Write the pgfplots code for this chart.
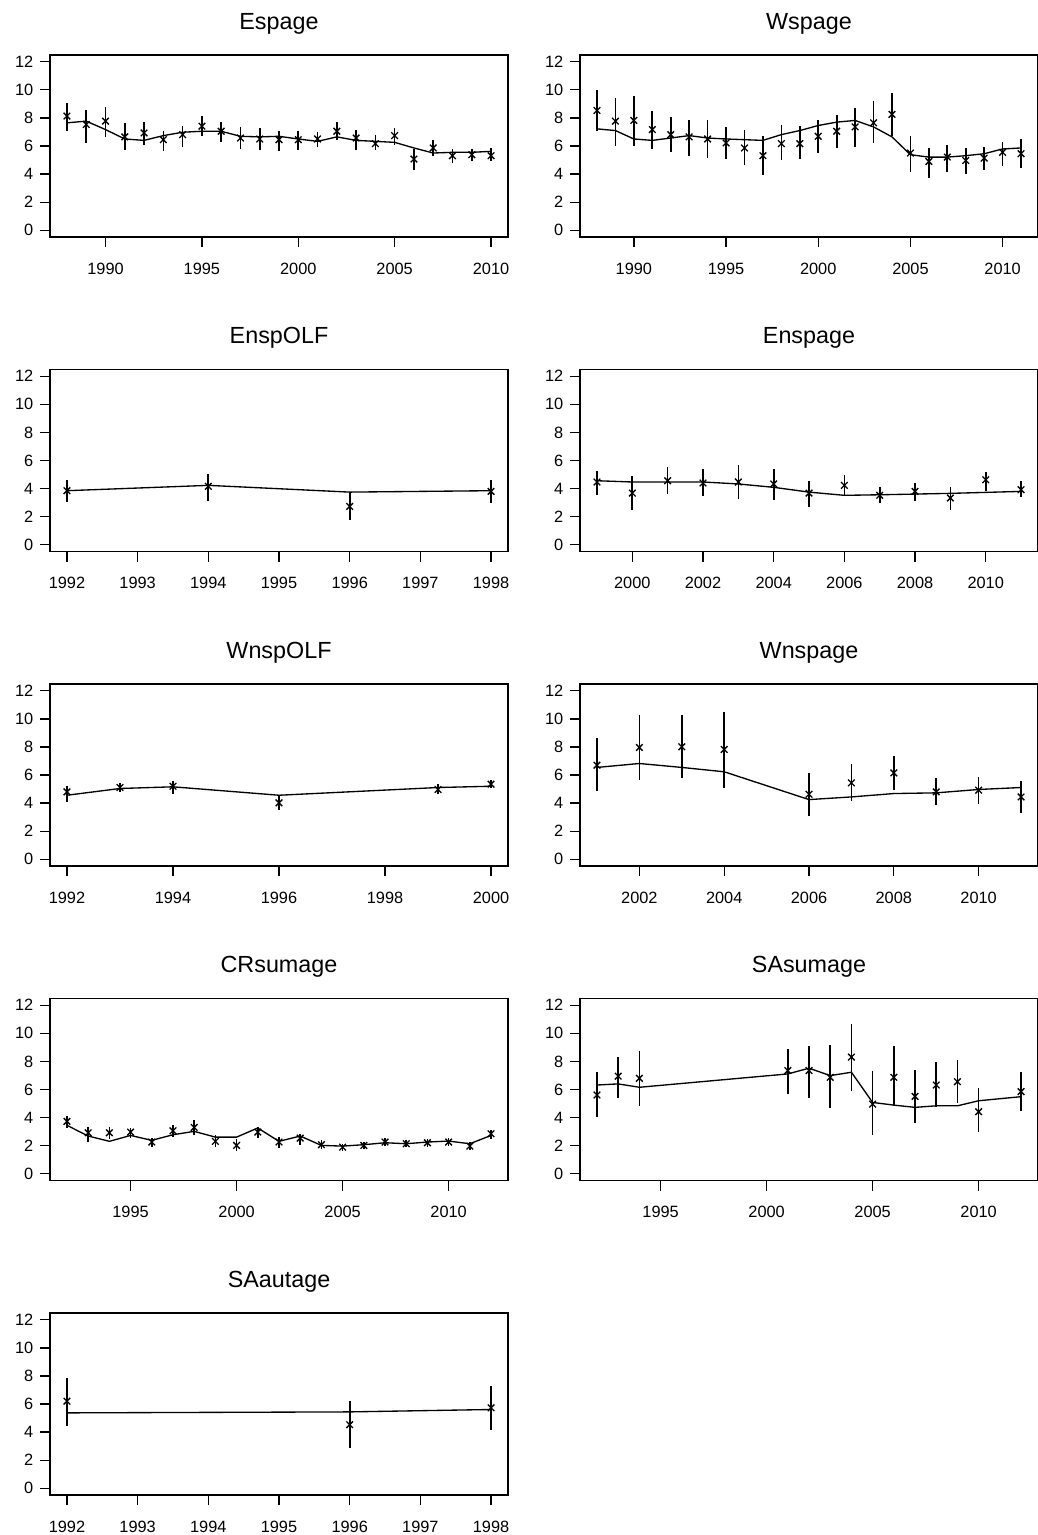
\documentclass[border=0pt]{standalone}
\usepackage{fontspec}
\setmainfont{Liberation Sans}
\usepackage{pgfplots}
\usepackage{pgfplotstable}
\pgfplotsset{compat=1.18}

\pgfplotstableread{
yr pt lo hi fit
1988 8.13 7.05 9.08 7.65
1989 7.53 6.22 8.56 7.77
1990 7.77 6.65 8.80 7.17
1991 6.65 5.74 7.65 6.50
1992 6.93 6.10 7.70 6.40
1993 6.45 5.62 7.05 6.74
1994 6.81 5.93 7.41 6.98
1995 7.41 6.74 8.13 7.05
1996 7.05 6.26 7.70 7.05
1997 6.57 5.79 7.36 6.69
1998 6.50 5.74 7.29 6.65
1999 6.45 5.62 7.05 6.69
2000 6.45 5.69 7.05 6.50
2001 6.50 5.93 6.98 6.33
2002 7.05 6.45 7.70 6.65
2003 6.57 5.69 7.17 6.40
2004 6.17 5.69 6.79 6.33
2005 6.74 6.10 7.29 6.26
2006 5.07 4.30 5.79 5.86
2007 5.86 5.26 6.40 5.50
2008 5.31 4.78 5.79 5.55
2009 5.38 4.90 5.79 5.55
2010 5.31 4.90 5.83 5.62
}\tabA

\pgfplotstableread{
yr pt lo hi fit
1988 8.53 7.05 9.99 7.22
1989 7.77 6.02 9.44 7.10
1990 7.82 6.02 9.56 6.50
1991 7.17 5.79 8.49 6.40
1992 6.81 5.55 8.08 6.57
1993 6.65 5.31 7.82 6.74
1994 6.50 5.14 7.82 6.57
1995 6.22 5.07 7.36 6.50
1996 5.86 4.66 7.17 6.45
1997 5.31 3.94 6.74 6.40
1998 6.17 4.97 7.46 6.81
1999 6.17 5.07 7.41 7.10
2000 6.69 5.50 7.84 7.46
2001 7.05 5.86 8.22 7.70
2002 7.36 5.93 8.73 7.82
2003 7.65 6.22 9.20 7.36
2004 8.25 6.74 9.75 6.65
2005 5.50 4.18 6.69 5.38
2006 4.90 3.71 5.86 5.21
2007 5.21 4.18 6.07 5.21
2008 4.97 4.02 5.83 5.31
2009 5.14 4.26 5.93 5.45
2010 5.55 4.59 6.26 5.79
2011 5.45 4.42 6.50 5.86
}\tabB

\pgfplotstableread{
yr pt lo hi fit
1992 3.85 3.04 4.63 3.85
1994 4.16 3.14 5.04 4.23
1996 2.73 1.78 3.75 3.75
1998 3.80 2.97 4.63 3.85
}\tabC

\pgfplotstableread{
yr pt lo hi fit
1999 4.47 3.52 5.28 4.56
2000 3.68 2.47 4.87 4.47
2001 4.56 3.61 5.51 4.47
2002 4.40 3.45 5.42 4.47
2003 4.47 3.28 5.70 4.33
2004 4.33 3.21 5.42 4.09
2005 3.68 2.66 4.52 3.75
2006 4.23 3.45 4.99 3.52
2007 3.52 2.97 4.09 3.56
2008 3.80 3.14 4.40 3.61
2009 3.33 2.50 4.09 3.66
2010 4.63 3.80 5.18 3.73
2011 3.92 3.37 4.56 3.80
}\tabD

\pgfplotstableread{
yr pt lo hi fit
1992 4.80 4.09 5.20 4.56
1993 5.11 4.80 5.44 5.04
1994 5.20 4.68 5.58 5.16
1996 4.02 3.49 4.56 4.56
1999 4.97 4.63 5.35 5.11
2000 5.35 5.04 5.68 5.20
}\tabE

\pgfplotstableread{
yr pt lo hi fit
2001 6.70 4.87 8.67 6.54
2002 7.96 5.68 10.27 6.82
2003 8.01 5.82 10.27 6.54
2004 7.82 5.11 10.50 6.23
2006 4.63 3.07 6.11 4.25
2007 5.44 4.16 6.82 4.44
2008 6.15 4.92 7.34 4.68
2009 4.80 3.85 5.82 4.73
2010 4.92 3.92 5.87 4.97
2011 4.44 3.30 5.58 5.11
}\tabF

\pgfplotstableread{
yr pt lo hi fit
1992 3.73 3.26 4.11 3.45
1993 2.92 2.26 3.33 2.69
1994 2.92 2.50 3.33 2.31
1995 2.97 2.54 3.26 2.73
1996 2.26 1.90 2.54 2.38
1997 3.06 2.61 3.45 2.78
1998 3.30 2.78 3.80 3.02
1999 2.31 1.90 2.73 2.61
2000 2.02 1.59 2.45 2.61
2001 2.97 2.54 3.33 3.26
2002 2.26 1.83 2.61 2.31
2003 2.54 2.02 2.85 2.69
2004 2.07 1.73 2.38 2.02
2005 1.90 1.59 2.14 1.97
2006 2.02 1.73 2.26 2.07
2007 2.26 1.97 2.54 2.21
2008 2.14 1.88 2.38 2.14
2009 2.21 1.90 2.45 2.26
2010 2.26 1.97 2.54 2.33
2011 1.97 1.66 2.26 2.14
2012 2.85 2.50 3.09 2.73
}\tabG

\pgfplotstableread{
yr pt lo hi fit
1992 5.61 4.01 7.28 6.32
1993 6.95 5.37 8.31 6.40
1994 6.80 4.80 8.71 6.16
2001 7.35 5.68 8.90 7.11
2002 7.35 5.37 9.09 7.52
2003 6.87 4.65 9.19 6.99
2004 8.31 5.92 10.69 7.23
2005 4.96 2.74 7.35 5.08
2006 6.87 4.80 9.09 4.89
2007 5.51 3.65 7.42 4.73
2008 6.32 4.73 7.95 4.84
2009 6.56 5.04 8.07 4.84
2010 4.42 2.94 6.09 5.20
2012 5.85 4.49 7.28 5.49
}\tabH

\pgfplotstableread{
yr pt lo hi fit
1992 6.20 4.41 7.87 5.37
1996 4.53 2.86 6.25 5.44
1998 5.73 4.17 7.28 5.61
}\tabI

\pgfplotsset{
  rpanel/.style={
    scale only axis,
    width=274.8pt, height=109.2pt,
    anchor=north west,
    ymin=-0.48, ymax=12.48,
    ytick={0,2,4,6,8,10,12},
    xtick pos=left, ytick pos=left,
    tick align=outside,
    major tick length=6pt,
    axis line style={line width=0.8pt},
    every tick/.style={black, line width=0.8pt},
    ticklabel style={font=\fontsize{9.8}{11}\selectfont},
    xticklabel style={yshift=-6pt},
    yticklabel style={xshift=-0.5pt},
    /pgf/number format/assume math mode=true,
    /pgf/number format/1000 sep={},
    title style={at={(0.5,1)}, anchor=base, yshift=9.6pt, font=\fontsize{14}{16}\selectfont},
    clip=false,
  },
}

\newcommand\panel[7]{%
\begin{axis}[rpanel, at={(#1*0.6pt,-#2*0.6pt)}, title={#3}, xmin=#4, xmax=#5, xtick={#6}]
\addplot[black, only marks, mark=x, mark size=2.8pt, mark options={line width=0.8pt},
  error bars/.cd, y dir=both, y explicit, error mark=none,
  error bar style={line width=1pt}]
  table[x=yr, y=pt, y error plus expr={\thisrow{hi}-\thisrow{pt}}, y error minus expr={\thisrow{pt}-\thisrow{lo}}] {#7};
\addplot[black, no marks, line width=0.8pt] table[x=yr, y=fit] {#7};
\end{axis}}

\begin{document}
\begin{tikzpicture}
\useasboundingbox (0,0) rectangle (622.2pt,-921pt);
\panel{50}{55}{Espage}{1987.12}{2010.88}{1990,1995,2000,2005,2010}{\tabA}
\panel{580}{55}{Wspage}{1987.08}{2011.92}{1990,1995,2000,2005,2010}{\tabB}
\panel{50}{369.5}{EnspOLF}{1991.76}{1998.24}{1992,1993,1994,1995,1996,1997,1998}{\tabC}
\panel{580}{369.5}{Enspage}{1998.52}{2011.48}{2000,2002,2004,2006,2008,2010}{\tabD}
\panel{50}{684}{WnspOLF}{1991.68}{2000.32}{1992,1994,1996,1998,2000}{\tabE}
\panel{580}{684}{Wnspage}{2000.6}{2011.4}{2002,2004,2006,2008,2010}{\tabF}
\panel{50}{998.5}{CRsumage}{1991.2}{2012.8}{1995,2000,2005,2010}{\tabG}
\panel{580}{998.5}{SAsumage}{1991.2}{2012.8}{1995,2000,2005,2010}{\tabH}
\panel{50}{1313}{SAautage}{1991.76}{1998.24}{1992,1993,1994,1995,1996,1997,1998}{\tabI}
\end{tikzpicture}
\end{document}
